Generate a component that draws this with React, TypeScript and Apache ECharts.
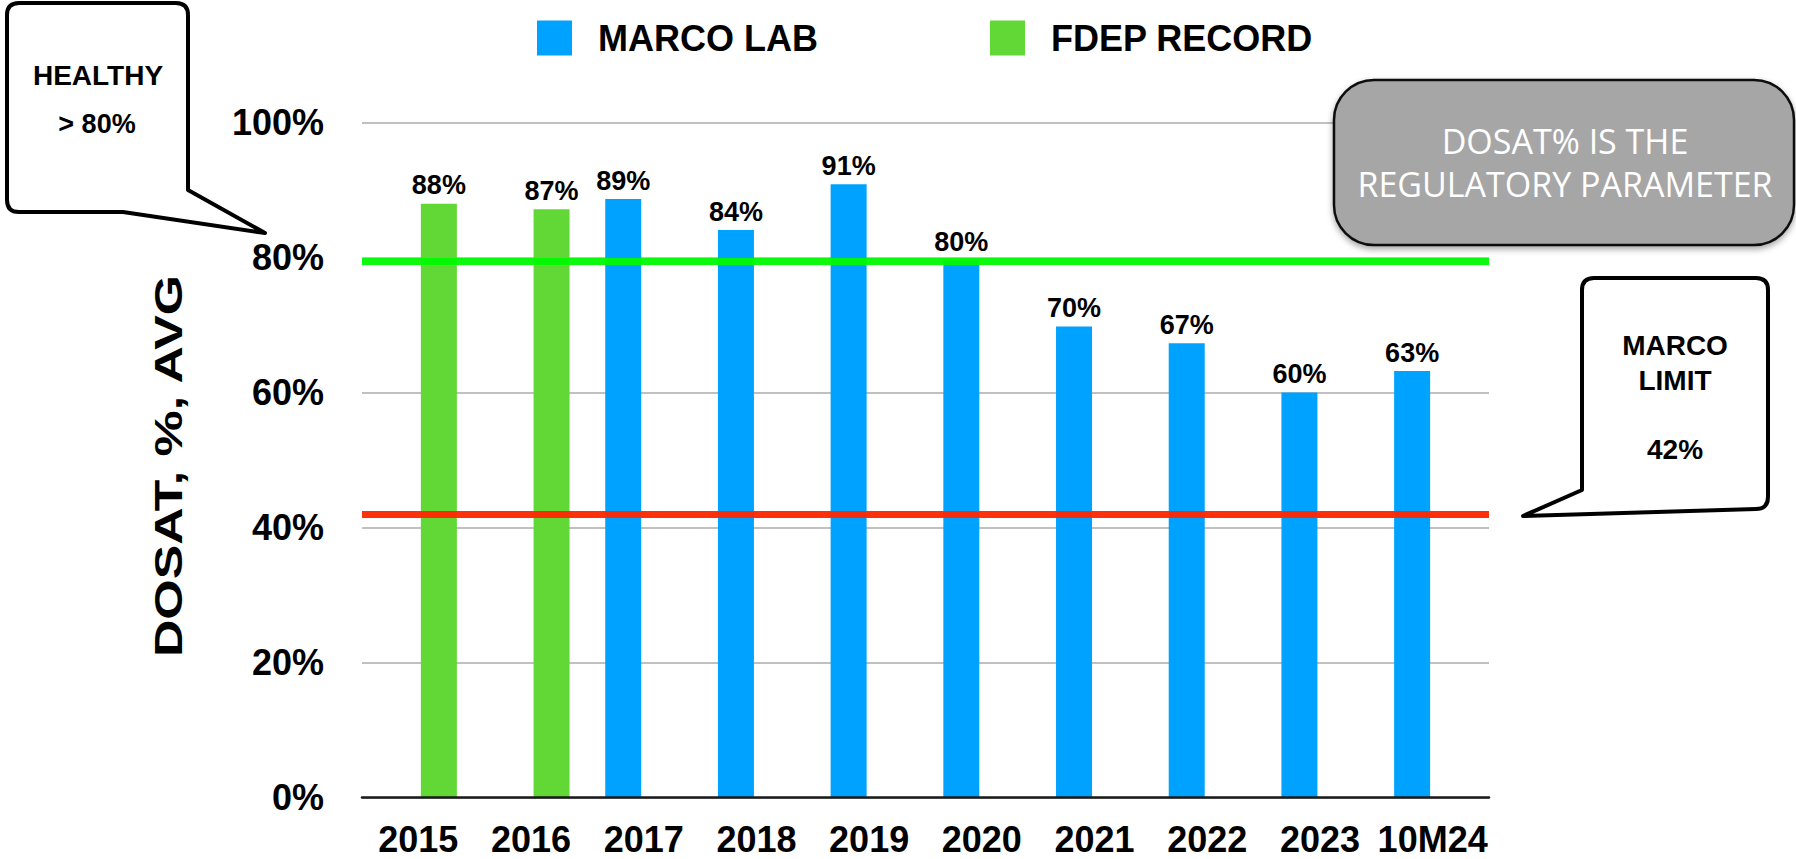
import React, { useEffect, useRef } from "react";
import * as echarts from "echarts";

const categories = ["2015", "2016", "2017", "2018", "2019", "2020", "2021", "2022", "2023", "10M24"];
const marcoLab = [null, null, 88.7, 84.1, 90.9, 79.6, 69.8, 67.3, 60.0, 63.2];
const fdepRecord = [88.0, 87.2, null, null, null, null, null, null, null, null];
const yMin = 0;
const yMax = 100;
const yInterval = 20;
const healthyLine = 79.4;
const marcoLimit = 42;

const FONT = "'Liberation Sans', Arial, Helvetica, sans-serif";

const healthyBubble =
  "M19 3 H176 Q188 3 188 15 V190 L265 233 L123 212 H19 Q7 212 7 200 V15 Q7 3 19 3 Z";
const limitBubble =
  "M1594 278 H1756 Q1768 278 1768 290 V497 Q1768 509 1756 509 L1523 516 L1582 490 V290 Q1582 278 1594 278 Z";

echarts.graphic.registerShape("healthyBubble", echarts.graphic.extendPath(healthyBubble, {}));
echarts.graphic.registerShape("limitBubble", echarts.graphic.extendPath(limitBubble, {}));

function txt(text: string, x: number, y: number, size: number, weight: string, color = "#000", family = FONT, extra: any = {}) {
  return {
    type: "text",
    x,
    y,
    z: 100,
    ...extra,
    style: {
      text,
      fill: color,
      fontSize: size,
      fontWeight: weight,
      fontFamily: family,
      align: "center",
      verticalAlign: "middle",
      textAlign: "center",
      textVerticalAlign: "middle",
      ...(extra.style || {}),
    },
  };
}

export default function App() {
  const ref = useRef<HTMLDivElement>(null);
  useEffect(() => {
    if (!ref.current) return;
    const chart = echarts.init(ref.current, null, { renderer: "svg" });
    const labelFmt = (p: any) => (p.value == null ? "" : Math.round(p.value) + "%");
    chart.setOption({
      animation: false,
      backgroundColor: "#ffffff",
      legend: [
        {
          data: ["MARCO LAB"],
          left: 532,
          top: 15,
          itemWidth: 35,
          itemHeight: 35,
          icon: "rect",
          selectedMode: false,
          textStyle: { fontSize: 36, fontWeight: "bold", color: "#000", fontFamily: FONT, padding: [0, 0, 0, 21] },
        },
        {
          data: ["FDEP RECORD"],
          left: 985,
          top: 15,
          itemWidth: 35,
          itemHeight: 35,
          icon: "rect",
          selectedMode: false,
          textStyle: { fontSize: 36, fontWeight: "bold", color: "#000", fontFamily: FONT, padding: [0, 0, 0, 21] },
        },
      ],
      grid: { left: 362, right: 307, top: 122.8, bottom: 61.7, containLabel: false },
      xAxis: {
        type: "category",
        data: categories,
        axisLine: { show: true, lineStyle: { color: "#1a1a1a", width: 2.5 } },
        axisTick: { show: false },
        axisLabel: { interval: 0, fontSize: 36, fontWeight: "bold", color: "#000", fontFamily: FONT, margin: 24 },
        z: 5,
      },
      yAxis: {
        type: "value",
        min: yMin,
        max: yMax,
        interval: yInterval,
        axisLine: { show: false },
        axisTick: { show: false },
        axisLabel: { formatter: "{value}%", fontSize: 36, fontWeight: "bold", color: "#000", fontFamily: FONT, margin: 38 },
        splitLine: { lineStyle: { color: "#c0c0c0", width: 2 } },
      },
      series: [
        {
          name: "MARCO LAB",
          type: "bar",
          data: marcoLab,
          barWidth: 36,
          barGap: "14%",
          itemStyle: { color: "#00A2FF" },
          label: { show: true, position: "top", distance: 5, formatter: labelFmt, fontSize: 27, fontWeight: "bold", color: "#000", fontFamily: FONT },
        },
        {
          name: "FDEP RECORD",
          type: "bar",
          data: fdepRecord,
          barWidth: 36,
          barGap: "14%",
          itemStyle: { color: "#61D836" },
          label: { show: true, position: "top", distance: 5, formatter: labelFmt, fontSize: 27, fontWeight: "bold", color: "#000", fontFamily: FONT },
          markLine: {
            silent: true,
            symbol: "none",
            z: 10,
            label: { show: false },
            data: [
              { yAxis: healthyLine, lineStyle: { color: "#00F900", width: 7, type: "solid", opacity: 0.95 } },
              { yAxis: marcoLimit, lineStyle: { color: "#FF2600", width: 7, type: "solid", opacity: 0.95 } },
            ],
          },
        },
      ],
      graphic: [
        txt("DOSAT, %, AVG", 168, 466, 39, "bold", "#000", FONT, { rotation: Math.PI / 2, scaleX: 1.33 }),
        {
          type: "healthyBubble",
          x: 0,
          y: 0,
          z: 90,
          style: { fill: "#ffffff", stroke: "#000", lineWidth: 4, lineJoin: "round" },
        },
        txt("HEALTHY", 98, 75, 28, "bold"),
        txt("> 80%", 97, 124, 27, "bold"),
        {
          type: "rect",
          z: 90,
          shape: { x: 1334, y: 80, width: 460, height: 165, r: 40 },
          style: {
            fill: "#A6A6A6",
            stroke: "#111",
            lineWidth: 2.5,
            shadowBlur: 6,
            shadowOffsetY: 3,
            shadowColor: "rgba(0,0,0,0.35)",
          },
        },
        txt("DOSAT% IS THE\nREGULATORY PARAMETER", 1565, 162.5, 34, "normal", "#ffffff", "'Open Sans', 'DejaVu Sans', sans-serif", { style: { lineHeight: 43 } }),
        {
          type: "limitBubble",
          x: 0,
          y: 0,
          z: 90,
          style: { fill: "#ffffff", stroke: "#000", lineWidth: 4, lineJoin: "round" },
        },
        txt("MARCO", 1675, 345, 28, "bold"),
        txt("LIMIT", 1675, 380, 28, "bold"),
        txt("42%", 1675, 449, 28, "bold"),
      ],
    });
    return () => chart.dispose();
  }, []);
  return <div ref={ref} style={{ position: "fixed", left: 0, top: 0, width: 1796, height: 859 }} />;
}
